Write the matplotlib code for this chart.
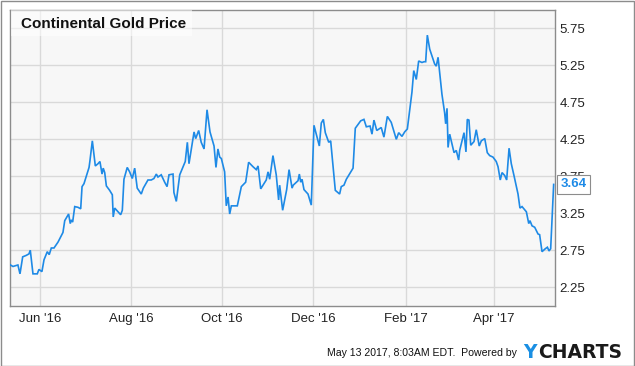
import numpy as np
import pandas as pd
import matplotlib
matplotlib.use("Agg")
import matplotlib.pyplot as plt
import matplotlib.dates as mdates
from matplotlib.patches import Rectangle

plt.rcParams['font.family'] = ['Liberation Sans', 'DejaVu Sans']

# days after 1 Jun 2016, price in USD
day = [-20, -18.3, -15, -13.6, -11.8, -9.4, -7.6, -6.7, -4.9, -2, -0.9, 1.1, 2.5, 4.7, 6,
       7.4, 9.2, 11.9, 13.7, 15.2, 16.4, 19, 20.1, 20.8, 21.7, 23.1, 25.3, 27.1, 28, 29.3,
       32.7, 33.3, 34.9, 36.9, 38.7, 40, 41.4, 42.2, 43.2, 44.3, 46.5, 48.3, 48.9, 49.9,
       52.1, 53.9, 55, 56.1, 58.3, 59.9, 61.7, 63.3, 65, 67.7, 69.1, 72.2, 74.4, 76.2,
       77.8, 78.9, 81.1, 83.4, 85, 86.3, 89, 89.6, 91.2, 93.5, 97.2, 98.6, 99.7, 103.1,
       104.2, 106.2, 107.9, 109.8, 111.8, 113.8, 116.5, 117.8, 119.1, 120.3, 121.4, 123.6,
       124.7, 125.9, 127, 128.1, 132.1, 134.8, 137.7, 139.7, 142.6, 144.8, 146, 147.8,
       151.5, 152.7, 153.8, 156, 158.2, 159.8, 160.5, 162.5, 165.2, 166.8, 168.8, 169.6,
       172.8, 173.7, 174.6, 175.5, 176.8, 179.5, 181.7, 183.5, 187.1, 188.4, 189.8, 191.1,
       193.4, 194.7, 197.8, 200.7, 201.8, 203.6, 205.2, 209.7, 211.2, 214.8, 217, 218.6,
       221.1, 222.4, 223.7, 225.6, 228.6, 230.4, 232.7, 235.3, 238.7, 240.3, 242.5, 244.3,
       246.1, 249.2, 250.4, 252.1, 253.7, 255.9, 257.3, 258.4, 259.5, 261.1, 262.6, 264.4,
       265.5, 266.7, 269.3, 271.1, 271.8, 272.7, 273.4, 274.5, 276, 277.4, 278.9, 280.5,
       281.2, 284.1, 285.4, 286.3, 287.4, 288.6, 290.8, 292.3, 294.3, 295.7, 298, 299.7,
       301.3, 303.5, 305.7, 306.9, 308.4, 309.6, 311.4, 312.7, 314.3, 315.8, 317.6, 320.3,
       321.6, 323, 325.9, 327.5, 328.3, 329.7, 331.5, 333.7, 334.8, 336.4, 338.6, 340,
       341.1, 342.2, 344.2]
price = [2.55, 2.53, 2.55, 2.43, 2.66, 2.68, 2.70, 2.75, 2.43, 2.43, 2.49, 2.46, 2.62, 2.73, 2.69,
         2.78, 2.78, 2.86, 2.93, 2.99, 3.15, 3.24, 3.11, 3.16, 3.13, 3.34, 3.33, 3.31, 3.61, 3.65,
         3.87, 3.96, 4.23, 3.89, 3.92, 3.95, 3.78, 3.86, 3.80, 3.62, 3.56, 3.50, 3.20, 3.32,
         3.27, 3.23, 3.29, 3.71, 3.87, 3.81, 3.72, 3.86, 3.59, 3.51, 3.59, 3.70, 3.70, 3.72,
         3.78, 3.74, 3.77, 3.67, 3.61, 3.77, 3.78, 3.53, 3.41, 3.77, 3.95, 4.21, 3.92, 4.35,
         4.26, 4.37, 4.21, 4.12, 4.65, 4.35, 4.16, 3.87, 4.12, 4.01, 3.99, 3.81,
         3.35, 3.47, 3.24, 3.35, 3.35, 3.61, 3.67, 3.94, 3.88, 3.84, 3.89, 3.58,
         3.70, 3.81, 3.71, 4.03, 3.77, 3.43, 3.63, 3.29, 3.57, 3.84, 3.59, 3.63,
         3.69, 3.78, 3.67, 3.71, 3.57, 3.51, 3.36, 4.44, 4.16, 4.47, 4.52, 4.34,
         4.21, 4.23, 3.56, 3.51, 3.61, 3.63, 3.71, 3.86, 4.40, 4.50, 4.52, 4.42,
         4.43, 4.32, 4.51, 4.37, 4.41, 4.28, 4.56, 4.48, 4.25, 4.34, 4.29, 4.35,
         4.39, 4.89, 5.18, 5.06, 5.31, 5.29, 5.30, 5.30, 5.66, 5.47, 5.38, 5.27,
         5.24, 5.36, 4.86, 4.61, 4.46, 4.67, 4.14, 4.32, 4.19, 4.07, 4.10, 3.97,
         4.10, 4.34, 4.08, 4.52, 4.51, 4.17, 4.22, 4.38, 4.16, 4.23, 4.26, 4.07,
         4.03, 4.01, 3.95, 3.88, 3.70, 3.80, 3.76, 3.70, 4.13, 3.92, 3.76, 3.51,
         3.32, 3.34, 3.27, 3.11, 3.15, 3.08, 3.06, 2.97, 2.96, 2.73, 2.77, 2.79,
         2.74, 2.77, 3.64]
yticks = [2.25, 2.75, 3.25, 3.75, 4.25, 4.75, 5.25, 5.75]
last_label = "3.64"

base = pd.Timestamp("2016-06-01")
dates = base + pd.to_timedelta(day, unit="D")

W, H = 635, 366
fig = plt.figure(figsize=(W / 100, H / 100), dpi=100)
ax = fig.add_axes([10.3 / W, 1 - 306 / H, 544.4 / W, 296 / H])
ax.set_facecolor("#f7f7f7")

blue = "#1e8ae6"
ax.plot(dates, price, color=blue, lw=1.2, zorder=3, solid_joinstyle="miter")

ax.set_xlim(base + pd.Timedelta(days=-20.1), base + pd.Timedelta(days=344.9))
ax.set_ylim(1.995, 6.0)
ax.set_yticks(yticks)
ax.set_yticklabels([f"{t:.2f}" for t in yticks])
ax.yaxis.tick_right()
ax.xaxis.set_major_locator(mdates.MonthLocator(bymonth=[2, 4, 6, 8, 10, 12]))
ax.xaxis.set_major_formatter(mdates.DateFormatter("%b '%y"))
ax.tick_params(length=0, labelsize=9.5, colors="#222222")
ax.tick_params(axis="y", pad=3.5)
ax.tick_params(axis="x", pad=5)
ax.grid(True, color="#d9d9d9", lw=1.0, zorder=1)
ax.set_axisbelow(True)
for s in ax.spines.values():
    s.set_color("#8c8c8c")
    s.set_linewidth(1.0)

# title with its light box
fig.patches.append(Rectangle((10.5 / W, 1 - 36 / H), 181 / W, 25.5 / H,
                             transform=fig.transFigure, facecolor="white",
                             alpha=0.55, edgecolor="none", zorder=2))
fig.text(21 / W, 1 - 24 / H, "Continental Gold Price", fontsize=11, fontweight="bold",
         color="#111111", va="center", ha="left", zorder=4)

# last value tag
ax.annotate(last_label, xy=(1.0, price[-1]), xycoords=("axes fraction", "data"),
            xytext=(4, 0), textcoords="offset points", va="center", ha="left",
            fontsize=9.5, fontweight="bold", color=blue, annotation_clip=False, zorder=10,
            bbox=dict(boxstyle="square,pad=0.25", fc="white", ec="#8c8c8c", lw=0.8))

# footer
fig.text(327 / W, 1 - 353 / H, "May 13 2017, 8:03AM EDT.  Powered by", fontsize=7.6,
         color="#111111", va="center", ha="left")
fig.text(523 / W, 1 - 352 / H, "Y", fontsize=13.5, fontweight="bold", color="#1a8fe3",
         va="center", ha="left", family="DejaVu Sans")
fig.text(538.5 / W, 1 - 352 / H, "CHARTS", fontsize=13.5, fontweight="bold", color="#1a1a1a",
         va="center", ha="left", family="DejaVu Sans")

# outer frame
fig.patches.append(Rectangle((0.5 / W, 0.5 / H), (W - 1.5) / W, (H - 1.5) / H,
                             transform=fig.transFigure, fill=False,
                             edgecolor="#8c8c8c", lw=1.0))

fig.savefig("out.png", dpi=100)
